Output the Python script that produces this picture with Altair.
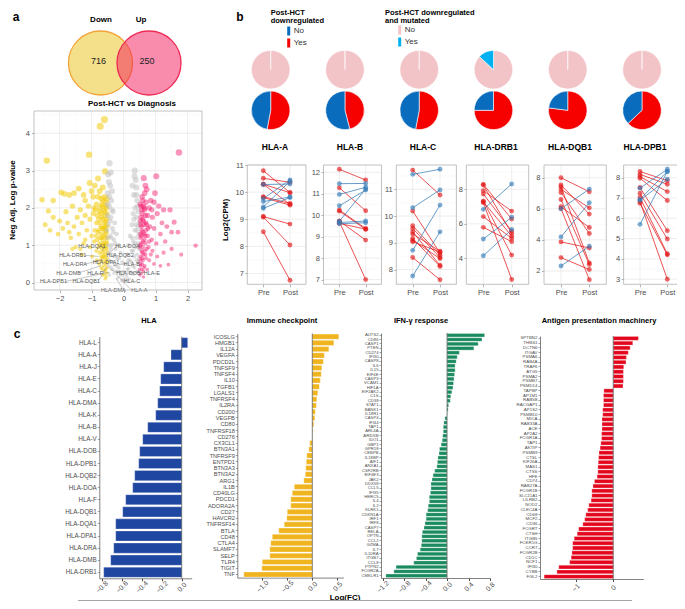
import math
import altair as alt
import pandas as pd

W, H = 669, 593
FONT = "Liberation Sans"
TXT_GREY = "#4D4D4D"

# ---------------- data ----------------
venn_sets = ["Down", "Up"]
venn_counts = [716, 250]

volcano_down = [(-0.60,4.37),(-0.73,4.19),(-1.08,3.43),(-2.40,3.27),(-0.58,2.98),(-0.80,2.79),(-1.06,2.67),(-0.65,2.55),(-2.55,2.22),(-1.95,2.42),
    (-1.85,2.38),(-1.70,2.35),(-1.40,2.52),(-0.90,2.60),(-0.75,2.45),(-0.95,2.30),(-1.20,2.20),(-2.20,2.20),(-2.35,1.92),(-2.20,1.75),
    (-2.00,1.65),(-1.80,1.90),(-1.60,2.05),(-1.35,1.95),(-1.10,2.05),(-0.85,2.10),(-0.70,2.25),(-0.60,2.30),(-0.55,2.15),
    (-2.45,1.55),(-2.30,1.40),(-1.90,1.45),(-1.75,1.60),(-1.55,1.50),(-1.45,1.75),(-1.30,1.60),(-1.20,1.80),(-1.05,1.70),(-0.95,1.85),
    (-0.85,1.60),(-0.75,1.90),(-0.68,1.75),(-0.62,1.95),(-0.57,1.80),(-0.53,2.00),(-1.65,1.20),(-1.40,1.30),(-1.15,1.40),(-1.00,1.25),
    (-0.90,1.40),(-0.80,1.35),(-0.72,1.50),(-0.65,1.45),(-0.60,1.60),(-0.55,1.55),(-0.52,1.70),
    (-1.50,0.95),(-1.25,1.05),(-1.05,0.95),(-0.92,1.10),(-0.82,1.15),(-0.75,1.05),(-0.68,1.20),(-0.62,1.25),(-0.57,1.30),(-0.53,1.35),
    (-0.50,1.20),(-0.85,0.85),(-0.75,0.80),(-0.68,0.90),(-0.62,0.95),(-0.57,1.00),(-0.53,0.90),(-0.50,0.80),(-0.72,0.60),(-0.65,0.65),
    (-0.60,0.70),(-0.55,0.60),(-0.51,0.55),(-0.70,0.40),(-0.62,0.45),(-0.56,0.35),(-0.52,0.40),(-0.60,0.20),(-0.54,0.15),(-0.98,0.70),
    (-1.30,0.75),(-0.66,2.05),(-0.58,1.45),(-0.64,1.05),(-0.70,1.30),(-0.54,1.10),(-0.60,0.85),(-0.66,0.80),(-0.74,2.00),(-0.78,1.70),
    (-0.88,1.95),(-0.80,2.30),(-1.00,2.45),(-1.25,2.35),(-1.55,2.40),(-1.20,1.15),(-1.35,0.90),(-1.70,1.35),(-2.05,1.30),(-1.60,0.90),
    (-0.52,0.25),(-0.58,0.30),(-0.66,0.35),(-0.55,0.50),(-0.63,0.55),(-0.70,0.70),(-0.52,0.65),(-0.58,0.75),(-0.64,0.70),(-0.55,0.95),
    (-0.70,1.00),(-0.60,1.05),(-0.52,1.05),(-0.66,1.15),(-0.58,1.20),(-0.74,1.20),(-0.62,1.40),(-0.55,1.40),(-0.68,1.45),(-0.51,1.50),
    (-0.60,1.50),(-0.74,1.60),(-0.56,1.65),(-0.64,1.70),(-0.70,1.85),(-0.52,1.85),(-0.60,1.90),(-0.56,2.05),(-0.64,2.20),(-0.52,2.25),
    (-0.68,2.10),(-0.78,1.40),(-0.82,1.80),(-0.86,1.25),(-0.92,2.00),(-0.78,0.95),(-0.84,0.60),(-0.76,0.50),(-0.66,0.20),(-0.58,0.10)]
volcano_ns = [(-0.44,3.20),(0.35,3.00),(-0.48,2.90),(0.38,2.75),(-0.42,2.60),(0.40,2.55),(-0.50,2.40),(0.32,2.35),(-0.38,2.20),(0.42,2.20),
    (-0.45,2.05),(0.36,2.00),(-0.33,1.90),(0.30,1.85),(-0.40,1.75),(0.40,1.75),(-0.28,1.60),(0.26,1.55),(-0.47,1.55),(0.45,1.50),
    (-0.35,1.45),(0.35,1.40),(-0.22,1.30),(0.20,1.25),(-0.42,1.25),(0.40,1.20),(-0.30,1.15),(0.30,1.10),(-0.15,1.00),(0.15,1.00),
    (-0.38,1.00),(0.36,0.95),(-0.25,0.90),(0.25,0.85),(-0.10,0.80),(0.10,0.75),(-0.33,0.75),(0.33,0.70),(-0.20,0.65),(0.20,0.60),
    (-0.05,0.55),(0.05,0.50),(-0.28,0.50),(0.28,0.45),(-0.15,0.40),(0.15,0.38),(0.00,0.30),(-0.22,0.30),(0.22,0.28),(-0.10,0.20),
    (0.10,0.18),(-0.30,0.25),(0.30,0.22),(0.00,0.10),(-0.18,0.12),(0.18,0.10),(-0.06,0.05),(0.06,0.04),(-0.45,0.60),(0.45,0.55),
    (-0.48,1.00),(0.48,0.90),(-0.50,1.80),(0.47,1.30),(-0.36,2.45),(0.28,2.60),(-0.40,0.40),(-0.46,0.80),(-0.52,1.40),(-0.50,2.10),
    (0.42,0.75),(0.44,1.05),(0.46,1.90),(0.38,1.55),
    (-0.40,2.95),(-0.46,2.70),(-0.44,2.30),(-0.36,1.95),(-0.42,1.65),(-0.32,1.35),(-0.38,1.20),(-0.26,1.05),(-0.40,0.90),(-0.30,0.70),
    (-0.36,0.55),(-0.24,0.45),(-0.12,0.30),(-0.34,0.35),(-0.44,0.20),(0.34,2.85),(0.40,2.35),(0.44,2.05),(0.32,1.70),(0.42,1.40),
    (0.26,1.20),(0.36,1.05),(0.30,0.85),(0.40,0.60),(0.24,0.55),(0.34,0.40),(0.12,0.35),(0.44,0.30),(-0.02,0.20),(0.08,0.10),
    (-0.14,0.65),(0.14,0.60),(-0.50,1.20),(-0.48,0.45),(0.48,0.65),(0.49,1.60)]
volcano_up = [(1.73,3.49),(1.02,2.85),(0.63,2.80),(0.68,2.60),(0.72,2.50),(2.25,0.99),(1.58,1.62),(1.40,0.48),(0.85,2.20),(0.95,2.15),
    (1.10,2.05),(1.25,1.95),(1.05,1.85),(0.80,2.00),(0.60,2.20),(0.55,2.05),(0.65,1.95),(0.75,1.80),(0.90,1.75),(1.20,1.60),
    (1.35,1.50),(1.50,1.35),(1.70,1.35),(1.15,1.30),(0.95,1.45),(0.82,1.50),(0.70,1.60),(0.60,1.70),(0.53,1.55),(0.57,1.40),
    (0.64,1.30),(0.75,1.25),(0.88,1.15),(1.02,1.05),(1.30,1.10),(1.50,0.90),(1.25,0.80),(1.05,0.70),(0.90,0.85),(0.78,0.95),
    (0.68,1.05),(0.60,1.10),(0.53,1.20),(0.50,0.95),(0.56,0.85),(0.62,0.75),(0.70,0.65),(0.80,0.60),(0.95,0.50),(1.15,0.45),
    (0.52,0.60),(0.58,0.50),(0.66,0.45),(0.50,0.35),(0.55,0.25),(0.62,0.30),(1.80,0.75),(1.45,1.95),(0.98,2.40),(0.58,1.85),
    (0.66,2.00),(0.54,1.75),(0.60,0.95),(0.70,1.40),(0.52,1.00),(0.56,1.25),(0.64,1.55),(0.58,0.65),(0.54,0.45),(0.66,0.85),
    (0.51,0.20),(0.57,0.35),(0.64,0.40),(0.52,0.50),(0.60,0.60),(0.68,0.75),(0.53,0.70),(0.58,0.80),(0.72,0.90),(0.55,1.05),
    (0.65,1.15),(0.52,1.30),(0.60,1.35),(0.68,1.25),(0.56,1.50),(0.72,1.55),(0.52,1.65),(0.62,1.65),(0.68,1.80),(0.56,1.95),
    (0.52,2.10),(0.62,2.05),(0.70,2.15),(0.58,2.30),(0.66,2.40),(0.76,1.45),(0.80,1.10),(0.85,0.75),(0.74,0.35),(0.88,1.95),(0.62,0.15)]

volcano_labels = ["HLA-DQA1","HLA-DOA","HLA-DRB1","HLA-DQB2","HLA-DRA","HLA-DPA1","HLA-B","HLA-DMB",
                  "HLA-F","HLA-DOB","HLA-E","HLA-DPB1","HLA-DQB1","HLA-C","HLA-DMA","HLA-A"]
volcano_label_x = [-0.99,0.12,-1.59,-0.11,-1.52,-0.55,0.26,-1.72,-0.89,0.15,0.88,-2.19,-1.17,0.26,-0.32,0.49]
volcano_label_y = [0.97,0.97,0.73,0.73,0.50,0.56,0.50,0.26,0.26,0.26,0.26,0.03,0.03,0.03,-0.21,-0.21]
volcano_target_y = [0.85,0.75,0.70,0.70,0.60,0.62,0.45,0.45,0.40,0.35,0.30,0.28,0.32,0.20,0.12,0.10]

pie_genes = ["HLA-A", "HLA-B", "HLA-C", "HLA-DRB1", "HLA-DQB1", "HLA-DPB1"]
down_yes_frac = [0.53, 0.46, 0.53, 0.75, 0.77, 0.63]
mut_yes_frac = [0.0, 0.0, 0.0, 0.13, 0.0, 0.0]

hla_a_pre = [10.79,10.51,10.29,10.29,9.83,9.80,9.10,9.08,8.54,10.28,9.76,9.65,9.45,9.40]
hla_a_post = [9.98,10.36,9.55,9.98,9.58,9.52,8.82,8.05,6.75,10.30,10.45,9.82,10.40,9.80]
hla_b_pre = [12.14,11.28,10.24,10.19,9.73,9.70,9.62,11.47,10.97,10.44,9.72,9.66,9.60]
hla_b_post = [11.64,10.21,9.38,9.34,8.84,7.00,9.35,11.48,11.30,11.17,11.22,9.73,9.65]
hla_c_pre = [11.72,10.19,9.64,9.54,9.41,9.33,9.16,9.10,9.04,8.45,11.56,10.31,8.72,7.76]
hla_c_post = [10.79,8.62,8.54,8.45,8.16,8.69,8.12,8.41,8.66,7.62,11.75,10.98,10.41,9.41]
hla_drb1_pre = [8.29,8.25,7.92,7.73,7.32,7.23,7.28,6.42,5.80,6.84,5.12,4.15]
hla_drb1_post = [6.28,5.45,6.74,5.58,4.19,2.78,5.29,5.16,4.97,8.31,6.38,5.68]
hla_dqb1_pre = [8.00,7.53,7.42,7.25,7.05,6.60,6.13,6.02,3.87,2.86,6.00,4.19,2.32]
hla_dqb1_post = [7.10,5.66,2.52,6.06,4.41,2.41,4.80,1.44,3.48,2.09,7.27,6.39,3.59]
hla_dpb1_pre = [8.30,8.16,8.05,7.97,7.51,7.23,7.02,6.74,6.82,7.48,6.93,5.70,6.88]
hla_dpb1_post = [7.85,7.67,7.31,6.87,5.39,4.98,4.25,4.20,3.00,8.41,8.30,8.30,7.92]

hla_labels = ["HLA-L","HLA-A","HLA-J","HLA-E","HLA-C","HLA-DMA","HLA-K","HLA-B","HLA-V","HLA-DOB",
              "HLA-DPB1","HLA-DQB2","HLA-DOA","HLA-F","HLA-DQB1","HLA-DQA1","HLA-DPA1","HLA-DRA","HLA-DMB","HLA-DRB1"]
hla_values = [0.06,-0.107,-0.18,-0.21,-0.22,-0.24,-0.26,-0.34,-0.39,-0.42,
              -0.43,-0.47,-0.49,-0.56,-0.59,-0.66,-0.66,-0.68,-0.71,-0.78]

ic_labels = ["ICOSLG","HMGB1","IL12A","VEGFA","PDCD2L","TNFSF9","TNFSF4","IL10","TGFB1","LGALS1",
             "TNFRSF4","IL2RA","CD200","VEGFB","CD80","TNFRSF18","CD276","CX3CL1","BTN3A1","TNFRSF9",
             "ENTPD1","BTN3A3","BTN3A2","ARG1","IL1B","CD40LG","PDCD1","ADORA2A","CD27","HAVCR2",
             "TNFRSF14","BTLA","CD48","CTLA4","SLAMF7","SELP","TLR4","TIGIT","TNF"]
ic_values = [0.53,0.43,0.33,0.24,0.22,0.19,0.18,0.16,0.14,0.11,
             0.09,0.08,0.06,0.05,0.03,0.005,-0.005,-0.05,-0.07,-0.11,
             -0.12,-0.13,-0.14,-0.17,-0.36,-0.40,-0.43,-0.43,-0.50,-0.51,
             -0.56,-0.67,-0.80,-0.83,-0.85,-0.85,-1.00,-1.01,-1.37]

ifn_labels = ["AUTS2","CD86","CASP1","PTEN","CD274","IFI30","CASP8","IL6","IL15","EIF4E",
              "CASP3","VCAM1","HIF1A","EIF2AK2","C1S","CD38","STAT1","BANK1","IL18R1","CASP4",
              "IFI44","TAP1","ARL4A","ARID5B","IDO1","GBP1","GPR18","CEBPB","IL18BP","AIF1",
              "ANXA1","CSF2RB","EIF4E3","JAK2","DDX58","CCL5","IFI35","HERC5","IL4","IL2",
              "KLRK1","CDKN1A","IRF1","IRF8","CASP7","RELA","OPTN","CCL2","GZMA","IL7",
              "IL10RA","ITGB7","CCL8","PTPN2","FCGR2A","CMKLR1"]
ifn_values = [0.70,0.65,0.58,0.50,0.23,0.19,0.17,0.15,0.15,0.14,
              0.13,0.12,0.11,0.09,0.07,0.06,0.03,0.02,0.005,-0.04,
              -0.06,-0.07,-0.07,-0.08,-0.09,-0.11,-0.14,-0.15,-0.17,-0.18,
              -0.19,-0.23,-0.26,-0.28,-0.30,-0.30,-0.31,-0.33,-0.33,-0.35,
              -0.36,-0.39,-0.39,-0.41,-0.43,-0.46,-0.47,-0.47,-0.48,-0.50,
              -0.55,-0.57,-0.62,-0.95,-0.99,-1.14]

ag_labels = ["SPTBN2","THBS1","DCTN6","ITGAV","PSMA6","RAB4A","TRAF6","ATG5","PSMA2","PSMB7",
             "PSMD14","TAPBP","AP1M1","RAB5B","RACGAP1","AP1S2","PSMB10","MICA","RAB33A","ACE",
             "AP2A2","FCGR1A","TAP1","AKTIP","PSMB9","CTSL","KIF26A","MAS1","CTSS","HFE",
             "CD74","RAB27A","FCGR1B","SLC11A1","LILRB2","NOD2","CLEC4A","CD68","MCF2","CD36",
             "FCGRT","CTSH","ITGB5","FCER1G","CCR7","FCGR2B","CD1C","NCF1","IFI30","CYBB","FGL2"]
ag_values = [0.67,0.52,0.45,0.40,0.35,0.34,0.28,0.27,0.27,0.27,
             0.26,-0.25,-0.26,-0.26,-0.26,-0.28,-0.28,-0.30,-0.30,-0.30,
             -0.31,-0.31,-0.33,-0.35,-0.38,-0.39,-0.40,-0.41,-0.41,-0.43,
             -0.50,-0.54,-0.57,-0.57,-0.59,-0.65,-0.68,-0.73,-0.76,-0.81,
             -0.92,-0.96,-1.04,-1.08,-1.08,-1.10,-1.12,-1.16,-1.45,-1.50,-1.84]

# ---------------- helpers ----------------
def P(v):
    return round(v - 8, 2)

dummy = pd.DataFrame({"d": [0]})

def txt(s, x, y, size=8.0, weight="bold", align="center", baseline="middle", angle=None, color="#000000"):
    kw = dict(text=s, fontSize=size, fontWeight=weight, align=align, baseline=baseline, color=color, font=FONT)
    if angle is not None:
        kw["angle"] = angle
    return alt.Chart(dummy).mark_text(**kw).encode(x=alt.value(P(x)), y=alt.value(P(y)))

def frame(x0, x1, y0, y1, color="#B3B3B3", width=0.8):
    return alt.Chart(dummy).mark_rect(fill="#ffffff", fillOpacity=0, stroke=color, strokeWidth=width).encode(
        x=alt.value(P(x0)), x2=alt.value(P(x1)), y=alt.value(P(y0)), y2=alt.value(P(y1)))

def hgrid(vals, yenc, field, x0, x1, color, width):
    return alt.Chart(pd.DataFrame({field: vals})).mark_rule(color=color, strokeWidth=width).encode(
        y=yenc, x=alt.value(P(x0)), x2=alt.value(P(x1)))

def vgrid(vals, xenc, field, y0, y1, color, width):
    return alt.Chart(pd.DataFrame({field: vals})).mark_rule(color=color, strokeWidth=width).encode(
        x=xenc, y=alt.value(P(y0)), y2=alt.value(P(y1)))

ax_common = dict(labelColor=TXT_GREY, labelFont=FONT, labelFontSize=7.5, tickColor="#B3B3B3", tickSize=2.5,
                 domain=False, grid=False, title=None, labelFlush=False, labelOverlap=False)

layers = []

# ---------------- panel a: venn ----------------
venn_df = pd.DataFrame({"set": venn_sets, "n": venn_counts})
venn_x = alt.X("set:N", scale=alt.Scale(type="point", domain=venn_sets, range=[P(100.5), P(149)], padding=0), axis=None)
venn_c = alt.Chart(venn_df).mark_point(shape="circle", size=4096, filled=True, opacity=1, fillOpacity=0.5,
                                       strokeOpacity=1, strokeWidth=1.3).encode(
    x=venn_x, y=alt.value(P(63)),
    fill=alt.Fill("set:N", scale=alt.Scale(domain=venn_sets, range=["#E9C115", "#F3195B"]), legend=None),
    stroke=alt.Stroke("set:N", scale=alt.Scale(domain=venn_sets, range=["#F2A33A", "#EE2A55"]), legend=None))
venn_t = alt.Chart(venn_df).mark_text(fontSize=9, font=FONT, color="#222222", dx=-2).encode(
    x=venn_x, y=alt.value(P(61)), text="n:Q")
layers.append(alt.layer(venn_c, venn_t))
layers += [txt("a", 16, 17, size=12), txt("Down", 101, 20), txt("Up", 141, 20)]

# ---------------- panel a: volcano ----------------
vdf = pd.DataFrame([(x, y, "down") for x, y in volcano_down] + [(x, y, "ns") for x, y in volcano_ns]
                   + [(x, y, "up") for x, y in volcano_up], columns=["fc", "p", "grp"])
VX = alt.Scale(domain=[-2.8, 2.45], range=[P(34), P(202)], nice=False, zero=False)
VY = alt.Scale(domain=[-0.2, 4.6], range=[P(290), P(111)], nice=False, zero=False)
vol_x = alt.X("fc:Q", scale=VX, axis=alt.Axis(orient="bottom", offset=P(290) - H, values=[-2, -1, 0, 1, 2],
                                              format="d", labelPadding=1.5, **ax_common))
vol_y = alt.Y("p:Q", scale=VY, axis=alt.Axis(orient="left", offset=-P(34), values=[0, 1, 2, 3, 4],
                                             format="d", labelPadding=2, **ax_common))
vol_pts = alt.Chart(vdf).mark_circle().encode(
    x=vol_x, y=vol_y,
    color=alt.Color("grp:N", scale=alt.Scale(domain=["down", "ns", "up"], range=["#F2CC0C", "#BDBDBD", "#F5146A"]), legend=None),
    opacity=alt.Opacity("grp:N", scale=alt.Scale(domain=["down", "ns", "up"], range=[0.55, 0.45, 0.55]), legend=None),
    size=alt.Size("p:Q", scale=alt.Scale(domain=[0, 4.5], range=[10, 52]), legend=None))
hla_fc = dict(zip(hla_labels, hla_values))
vt_x = [hla_fc[l] for l in volcano_labels]
edges = [(lx - len(l) * 0.047) if tx < lx else (lx + len(l) * 0.047)
         for l, lx, tx in zip(volcano_labels, volcano_label_x, vt_x)]
seg_df = pd.DataFrame({"fc": edges, "p": volcano_label_y, "tx": vt_x, "ty": volcano_target_y})
lab_df = pd.DataFrame({"lab": volcano_labels, "fc": volcano_label_x, "p": volcano_label_y})
vol_seg = alt.Chart(seg_df).mark_rule(color="#808080", strokeWidth=0.45).encode(
    x=vol_x, y=vol_y, x2="tx:Q", y2="ty:Q")
vol_lab = alt.Chart(lab_df).mark_text(fontSize=5.5, font=FONT, color="#5A5A5A").encode(
    x=vol_x, y=vol_y, text="lab:N")
layers.append(alt.layer(
    vgrid([-2.5, -1.5, -0.5, 0.5, 1.5], vol_x, "fc", 111, 290, "#F0F0F0", 0.35),
    vgrid([-2, -1, 0, 1, 2], vol_x, "fc", 111, 290, "#E3E3E3", 0.6),
    hgrid([0.5, 1.5, 2.5, 3.5, 4.5], vol_y, "p", 34, 202, "#F0F0F0", 0.35),
    hgrid([0, 1, 2, 3, 4], vol_y, "p", 34, 202, "#E3E3E3", 0.6),
    vol_pts, vol_seg, vol_lab, frame(34, 202, 111, 290)))
layers += [txt("Post-HCT vs Diagnosis", 132, 104), txt("Neg Adj. Log p-value", 12.5, 200, angle=270)]

# ---------------- panel b: pies + legends ----------------
def pie_df(fracs, first, second):
    rows = []
    for g, f in zip(pie_genes, fracs):
        rows.append({"gene": g, "cat": first, "t0": 0.0, "t1": f})
        rows.append({"gene": g, "cat": second, "t0": f, "t1": 1.0})
    return pd.DataFrame(rows)

pie_x = alt.X("gene:N", scale=alt.Scale(type="point", domain=pie_genes, range=[P(270.7), P(642)], padding=0), axis=None)
theta = alt.Theta("t0:Q", scale=alt.Scale(domain=[0, 1], range=[0, 2 * math.pi]))
leg_common = dict(orient="none", title=None, direction="vertical", symbolType="M-0.5,-1.5H0.5V1.5H-0.5Z",
                  symbolSize=36, symbolStrokeWidth=0, labelFont=FONT, labelFontSize=8, labelColor="#333333",
                  labelOffset=1, rowPadding=2, padding=0)
mut_df = pie_df([1 - m for m in mut_yes_frac], "No", "Yes")
pie_mut = alt.Chart(mut_df).mark_arc(radius=19.3, stroke="#FFFFFF", strokeWidth=0.6).encode(
    x=pie_x, y=alt.value(P(69.7)), theta=theta, theta2="t1:Q",
    color=alt.Color("cat:N", scale=alt.Scale(domain=["No", "Yes"], range=["#F2C4C8", "#00B0F0"]),
                    legend=alt.Legend(legendX=P(395.7), legendY=P(26), **leg_common)))
down_df = pie_df(down_yes_frac, "Yes", "No")
pie_down = alt.Chart(down_df).mark_arc(radius=19.3, stroke="#FFFFFF", strokeWidth=0.6).encode(
    x=pie_x, y=alt.value(P(110.3)), theta=theta, theta2="t1:Q",
    color=alt.Color("cat:N", scale=alt.Scale(domain=["No", "Yes"], range=["#0A6CBD", "#F60000"]),
                    legend=alt.Legend(legendX=P(284.7), legendY=P(27), **leg_common)))
layers += [pie_mut, pie_down]
layers += [txt("b", 240, 17, size=12),
           txt("Post-HCT", 270.7, 12.5, align="left", size=7.5), txt("downregulated", 270.7, 20.5, align="left", size=7.5),
           txt("Post-HCT downregulated", 385, 12.5, align="left", size=7.5),
           txt("and mutated", 385, 20.5, align="left", size=7.5)]

# ---------------- panel b: paired line plots ----------------
LP_TOP, LP_BOT = 165, 284.3
LRED, LBLUE = "#E41A1C", "#377EB8"

def line_panel(pre, post, x0, x1, dom, ticks, minors):
    rows = []
    for i, (a, b) in enumerate(zip(pre, post)):
        d = "Yes" if b < a else "No"
        rows.append({"pid": i, "time": "Pre", "val": a, "down": d})
        rows.append({"pid": i, "time": "Post", "val": b, "down": d})
    df = pd.DataFrame(rows)
    xs = alt.Scale(type="point", domain=["Pre", "Post"], range=[P(x0), P(x1)], padding=0.6)
    ys = alt.Scale(domain=dom, range=[P(LP_BOT), P(LP_TOP)], nice=False, zero=False)
    xe = alt.X("time:N", scale=xs, axis=alt.Axis(orient="bottom", offset=P(LP_BOT) - H, labelAngle=0,
                                                labelPadding=1.5, **ax_common))
    ye = alt.Y("val:Q", scale=ys, axis=alt.Axis(orient="left", offset=-P(x0), values=ticks, format="d",
                                               labelPadding=1.5, **ax_common))
    col = alt.Color("down:N", scale=alt.Scale(domain=["No", "Yes"], range=[LBLUE, LRED]), legend=None)
    base = alt.Chart(df)
    lines = base.mark_line(strokeWidth=1, opacity=0.75).encode(x=xe, y=ye, color=col, detail="pid:N")
    pts = base.mark_circle(size=24, opacity=0.65).encode(x=xe, y=ye, color=col)
    return alt.layer(
        hgrid(minors, ye, "val", x0, x1, "#F0F0F0", 0.35),
        hgrid(ticks, ye, "val", x0, x1, "#E3E3E3", 0.6),
        vgrid(["Pre", "Post"], xe, "time", LP_TOP, LP_BOT, "#E3E3E3", 0.6),
        lines, pts, frame(x0, x1, LP_TOP, LP_BOT))

layers.append(line_panel(hla_a_pre, hla_a_post, 247.3, 306, [6.6, 11.0], [7, 8, 9, 10, 11], [7.5, 8.5, 9.5, 10.5]))
layers.append(line_panel(hla_b_pre, hla_b_post, 323.5, 381.5, [6.78, 12.34], [7, 8, 9, 10, 11, 12],
                         [7.5, 8.5, 9.5, 10.5, 11.5]))
layers.append(line_panel(hla_c_pre, hla_c_post, 396.3, 456.4, [7.45, 11.91], [8, 9, 10, 11], [7.5, 8.5, 9.5, 10.5, 11.5]))
layers.append(line_panel(hla_drb1_pre, hla_drb1_post, 466.3, 528.7, [2.5, 9.41], [4, 6, 8], [3, 5, 7, 9]))
layers.append(line_panel(hla_dqb1_pre, hla_dqb1_post, 544, 606.3, [1.14, 8.82], [2, 4, 6, 8], [3, 5, 7]))
layers.append(line_panel(hla_dpb1_pre, hla_dpb1_post, 623.6, 683.7, [2.75, 8.62], [3, 4, 5, 6, 7, 8],
                         [3.5, 4.5, 5.5, 6.5, 7.5, 8.5]))
for g, tx in zip(pie_genes, [275, 350, 423, 496, 570, 645]):
    layers.append(txt(g, tx, 147, size=8.5))
layers.append(txt("Log2(CPM)", 226, 220, angle=270))

# ---------------- panel c: bar charts ----------------
def bar_panel(labels, values, color, x0, x1, y0, y1, dom, ticks, fmt, lab_size, pad):
    df = pd.DataFrame({"g": labels, "v": values})
    ys = alt.Scale(type="band", domain=labels, range=[P(y0), P(y1)], paddingInner=pad, paddingOuter=pad / 2)
    xs = alt.Scale(domain=dom, range=[P(x0), P(x1)], nice=False, zero=False)
    ye = alt.Y("g:N", scale=ys, axis=alt.Axis(orient="left", offset=-P(x0), labelFontSize=lab_size, labelFont=FONT,
                                             labelColor=TXT_GREY, labelPadding=1, tickSize=2, tickColor="#4D4D4D",
                                             tickWidth=0.5, domainColor="#4D4D4D", domainWidth=0.7, title=None,
                                             labelOverlap=False, labelLimit=200, grid=False))
    xe = alt.X("v:Q", scale=xs, axis=alt.Axis(orient="bottom", offset=P(y1) - H, values=ticks, format=fmt,
                                             labelAngle=315, labelAlign="center", labelBaseline="middle",
                                             labelPadding=6, labelFontSize=7, labelFont=FONT, labelColor=TXT_GREY,
                                             tickSize=2.5, tickColor="#4D4D4D", domainColor="#4D4D4D",
                                             domainWidth=0.7, title=None, grid=False, labelFlush=False,
                                             labelOverlap=False))
    bars = alt.Chart(df).mark_bar(color=color, stroke="#FFFFFF", strokeWidth=0.3).encode(y=ye, x=xe, x2=alt.datum(0))
    zero = alt.Chart(pd.DataFrame({"v": [0.0]})).mark_rule(color="#4D4D4D", strokeWidth=0.7).encode(
        x=xe, y=alt.value(P(y0)), y2=alt.value(P(y1)))
    return alt.layer(bars, zero)

layers.append(bar_panel(hla_labels, hla_values, "#1F46A0", 99.3, 191.7, 336.7, 578.3, [-0.824, 0.1],
                        [-0.8, -0.6, -0.4, -0.2, 0.0], ".1f", 6.3, 0.16))
layers.append(bar_panel(ic_labels, ic_values, "#F0B41E", 237.3, 343.3, 333.5, 577.6, [-1.5, 0.62],
                        [-1.0, -0.5, 0.0, 0.5], ".1f", 5.6, 0.18))
layers.append(bar_panel(ifn_labels, ifn_values, "#1A8A5F", 381, 490, 333, 578, [-1.23, 0.8],
                        [-1.2, -0.8, -0.4, 0.0, 0.4, 0.8], ".1f", 4.2, 0.18))
layers.append(bar_panel(ag_labels, ag_values, "#E3061C", 540, 643.3, 336, 579, [-1.95, 0.8],
                        [-1, 0], "d", 4.4, 0.18))
layers += [txt("c", 17, 334, size=12),
           txt("HLA", 149, 321, size=7.5), txt("Immune checkpoint", 282, 321, size=7.5),
           txt("IFN-γ response", 421, 321, size=7.5), txt("Antigen presentation machinery", 599, 321, size=7.5),
           txt("Log(FC)", 345, 597.5, size=8)]
layers.append(alt.Chart(dummy).mark_rule(color="#A6A6A6", strokeWidth=1.2).encode(
    x=alt.value(P(78)), x2=alt.value(P(632)), y=alt.value(P(600.5))))

chart = alt.layer(*layers).resolve_scale(
    x="independent", y="independent", color="independent", size="independent", opacity="independent",
    fill="independent", stroke="independent", theta="independent"
).properties(width=W, height=H, autosize=alt.AutoSizeParams(type="none"), padding=0
).configure_view(strokeWidth=0)

chart.save("out.html", embed_options={"renderer": "svg", "actions": False})
